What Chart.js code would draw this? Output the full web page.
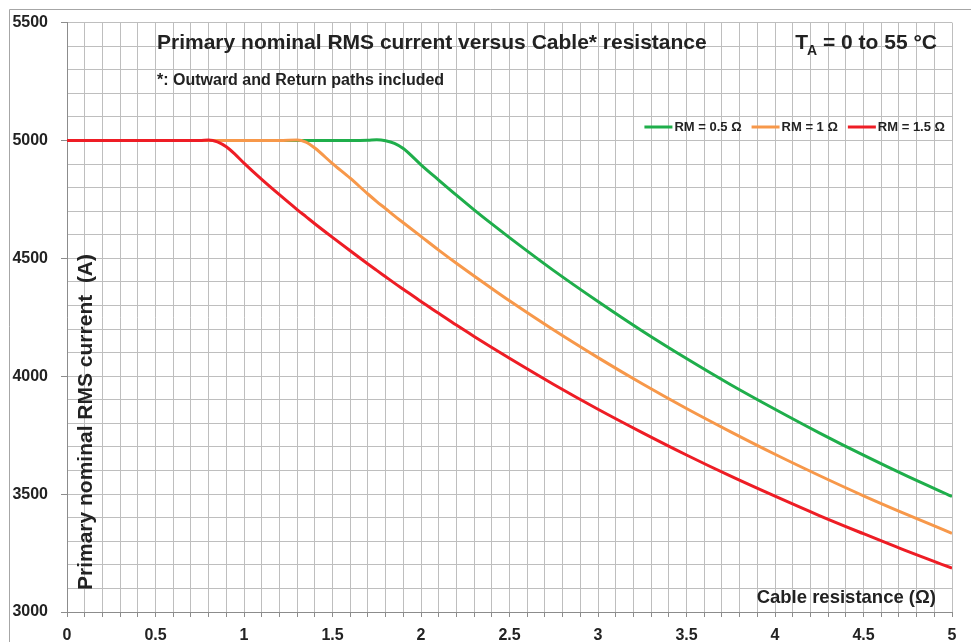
<!DOCTYPE html>
<html>
<head>
<meta charset="utf-8">
<script src="https://cdn.jsdelivr.net/npm/chart.js@4.4.1/dist/chart.umd.min.js"></script>
<style>
  html, body { margin: 0; padding: 0; background: #ffffff; }
  canvas { display: block; }
</style>
</head>
<body>
<canvas id="chart" width="971" height="642"></canvas>
<script>
// ---- data ----
const resistance = [0, 0.25, 0.5, 0.75, 0.8, 0.85, 0.9, 0.95, 1.0, 1.1, 1.2, 1.3, 1.35, 1.4, 1.5, 1.6, 1.7, 1.75, 1.8, 1.85, 1.9, 2.0, 2.1, 2.2, 2.3, 2.4, 2.5, 2.75, 3.0, 3.25, 3.5, 3.75, 4.0, 4.25, 4.5, 4.75, 5.0];
const currentRM05 = [5000, 5000, 5000, 5000, 5000, 5000, 5000, 5000, 5000, 5000, 5000, 5000, 5000, 5000, 5000, 5000, 5001, 5003, 4999, 4988, 4966, 4897, 4832, 4768, 4706, 4646, 4588, 4448, 4317, 4192, 4075, 3964, 3860, 3760, 3665, 3575, 3490];
const currentRM1  = [5000, 5000, 5000, 5000, 5000, 5000, 5000, 5000, 5000, 5000, 5000, 5002, 4993, 4968, 4902, 4840, 4773, 4741, 4711, 4680, 4651, 4593, 4535, 4479, 4425, 4372, 4320, 4196, 4079, 3968, 3863, 3764, 3669, 3579, 3493, 3412, 3334];
const currentRM15 = [5000, 5000, 5000, 5000, 5002, 4994, 4973, 4941, 4904, 4835, 4770, 4707, 4677, 4647, 4589, 4532, 4476, 4449, 4422, 4395, 4369, 4317, 4267, 4217, 4169, 4122, 4076, 3965, 3860, 3761, 3666, 3576, 3491, 3409, 3332, 3257, 3186];
const seriesNames = ['RM = 0.5 \u03A9', 'RM = 1 \u03A9', 'RM = 1.5 \u03A9'];
const seriesColors = ['#1fae4b', '#f7984a', '#ee1d25'];
const yTickLabels = [3000, 3500, 4000, 4500, 5000, 5500];
const xTickLabels = [0, 0.5, 1, 1.5, 2, 2.5, 3, 3.5, 4, 4.5, 5];

const titleText = 'Primary nominal RMS current versus Cable* resistance';
const noteText = '*: Outward and Return paths included';
const tempMain = 'T';
const tempSub = 'A';
const tempRest = ' = 0 to 55 \u00B0C';
const xTitleText = 'Cable resistance (\u03A9)';
const yTitleText = 'Primary nominal RMS current  (A)';

const FONT = '"Liberation Sans", Arial, Helvetica, sans-serif';
const TEXT = '#222222';

function pts(xs, ys) { return xs.map((x, i) => ({ x: x, y: ys[i] })); }
function near(v, list) { return list.some(t => Math.abs(t - v) < 1e-6); }

const textPlugin = {
  id: 'texts',
  beforeDraw(chart) {
    const c = chart.ctx;
    c.save();
    c.fillStyle = '#ffffff';
    c.fillRect(0, 0, chart.width, chart.height);
    c.strokeStyle = '#a6a6a6';
    c.lineWidth = 1;
    c.beginPath();
    c.moveTo(9.5, chart.height + 2);
    c.lineTo(9.5, 9.5);
    c.lineTo(chart.width + 2, 9.5);
    c.stroke();
    c.restore();
  },
  afterDraw(chart) {
    const c = chart.ctx;
    c.save();
    c.fillStyle = TEXT;
    c.textBaseline = 'alphabetic';
    c.textAlign = 'left';
    c.font = 'bold 21px ' + FONT;
    c.fillText(titleText, 157, 49);
    c.font = 'bold 16px ' + FONT;
    c.fillText(noteText, 157, 85);
    // T_A = 0 to 55 °C
    c.font = 'bold 21px ' + FONT;
    const restW = c.measureText(tempRest).width;
    const restX = 937 - restW;
    c.fillText(tempRest, restX, 49);
    c.font = 'bold 14px ' + FONT;
    const subW = c.measureText(tempSub).width;
    c.fillText(tempSub, restX - subW, 55);
    c.font = 'bold 21px ' + FONT;
    const tW = c.measureText(tempMain).width;
    c.fillText(tempMain, restX - subW - tW + 1, 49);
    // x title
    c.font = 'bold 18.5px ' + FONT;
    c.textAlign = 'right';
    c.fillText(xTitleText, 936, 603);

    // legend (one row, right aligned)
    c.font = 'bold 13px ' + FONT;
    c.textAlign = 'left';
    c.textBaseline = 'middle';
    const lineLen = 28, gapText = 2, gapItem = 10, legY = 127;
    const ds = chart.data.datasets;
    let total = 0;
    const widths = ds.map(d => c.measureText(d.label).width);
    widths.forEach((w, i) => { total += lineLen + gapText + w + (i < widths.length - 1 ? gapItem : 0); });
    let x = 945 - total;
    ds.forEach((d, i) => {
      c.strokeStyle = d.borderColor;
      c.lineWidth = 3;
      c.beginPath();
      c.moveTo(x, legY);
      c.lineTo(x + lineLen, legY);
      c.stroke();
      c.fillStyle = TEXT;
      c.fillText(d.label, x + lineLen + gapText, legY + 0.5);
      x += lineLen + gapText + widths[i] + gapItem;
    });

    // y title
    c.textBaseline = 'alphabetic';
    c.translate(92, 422);
    c.rotate(-Math.PI / 2);
    c.textAlign = 'center';
    c.font = 'bold 21px ' + FONT;
    c.fillStyle = TEXT;
    c.fillText(yTitleText, 0, 0);
    c.restore();
  }
};

new Chart(document.getElementById('chart'), {
  type: 'line',
  data: {
    datasets: [
      { label: seriesNames[0], data: pts(resistance, currentRM05), borderColor: seriesColors[0], backgroundColor: seriesColors[0], borderWidth: 3, pointRadius: 0, cubicInterpolationMode: 'monotone', fill: false, order: 2 },
      { label: seriesNames[1], data: pts(resistance, currentRM1), borderColor: seriesColors[1], backgroundColor: seriesColors[1], borderWidth: 3, pointRadius: 0, cubicInterpolationMode: 'monotone', fill: false, order: 1 },
      { label: seriesNames[2], data: pts(resistance, currentRM15), borderColor: seriesColors[2], backgroundColor: seriesColors[2], borderWidth: 3, pointRadius: 0, cubicInterpolationMode: 'monotone', fill: false, order: 0 }
    ]
  },
  options: {
    responsive: false,
    animation: false,
    devicePixelRatio: 1,
    layout: { padding: { left: 0, right: 19, top: 20, bottom: 0 } },
    plugins: {
      tooltip: { enabled: false },
      title: { display: false },
      legend: { display: false }
    },
    scales: {
      x: {
        type: 'linear',
        min: 0,
        max: 5,
        afterFit(s) { s.height = 30; },
        ticks: {
          stepSize: 0.1,
          autoSkip: false,
          maxRotation: 0,
          padding: 9,
          color: TEXT,
          font: { family: FONT, size: 16, weight: 'bold' },
          callback: (v) => near(v, xTickLabels) ? String(Math.round(v * 10) / 10) : ''
        },
        grid: { color: '#bebebe', lineWidth: 1, tickLength: 5, tickColor: '#8c8c8c' },
        border: { color: '#8c8c8c', width: 1 }
      },
      y: {
        type: 'linear',
        min: 3000,
        max: 5500,
        afterFit(s) { s.width = 67; },
        ticks: {
          stepSize: 100,
          autoSkip: false,
          padding: 13,
          crossAlign: 'near',
          color: TEXT,
          font: { family: FONT, size: 16, weight: 'bold' },
          callback: (v) => near(v, yTickLabels) ? String(v) : ''
        },
        grid: {
          color: '#bebebe', lineWidth: 1, tickLength: 6,
          tickColor: (ctx) => (ctx.tick && near(ctx.tick.value, yTickLabels)) ? '#8c8c8c' : 'rgba(0,0,0,0)'
        },
        border: { color: '#8c8c8c', width: 1 }
      }
    }
  },
  plugins: [textPlugin]
});
</script>
</body>
</html>
